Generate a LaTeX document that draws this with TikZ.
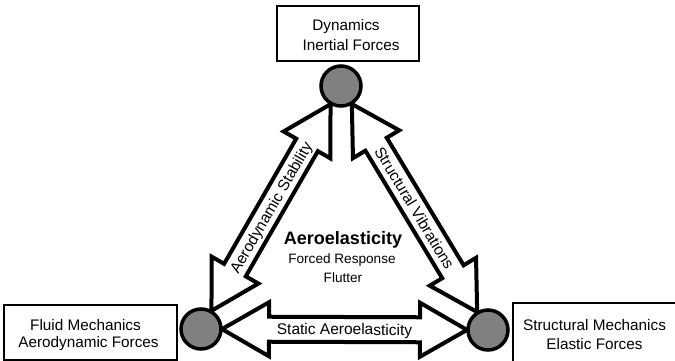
\documentclass[tikz,border=0pt]{standalone}
\usepackage{fontspec}
\setmainfont{Liberation Sans}
\usetikzlibrary{calc}
\pgfdeclarelayer{bg}
\pgfsetlayers{bg,main}
\definecolor{hubgray}{RGB}{128,128,128}
\tikzset{
  hub/.style={circle, draw=black, line width=3.5pt, fill=hubgray, minimum size=40pt, inner sep=0pt},
  topic/.style={draw=black, line width=1.3pt, fill=white},
  arrowbody/.style={draw=black, fill=white, line width=4pt, line join=miter},
  lbl/.style={font=\fontsize{15.3}{18}\selectfont, inner sep=0pt, anchor=base},
  alabel/.style={font=\fontsize{15.5}{18}\selectfont, inner sep=0pt, anchor=base},
  small/.style={font=\fontsize{13.6}{16}\selectfont, inner sep=0pt, anchor=base},
  big/.style={font=\fontsize{18}{21}\selectfont\bfseries, inner sep=0pt, anchor=base},
}
\newcommand\blockarrow[3]{%
  \path let \p1=(#1.center), \p2=(#2.center),
    \n1={atan2(\y2-\y1,\x2-\x1)}, \n2={veclen(\x2-\x1,\y2-\y1)} in
    \pgfextra{\xdef\arrang{\n1}\xdef\arrlen{\n2}};
  \begin{scope}[shift={(#1.center)}, rotate=\arrang]
    \draw[arrowbody] (21,0) -- (68,27) -- (68,12.5) -- ({\arrlen-68},12.5)
      -- ({\arrlen-68},27) -- ({\arrlen-21},0) -- ({\arrlen-68},-27)
      -- ({\arrlen-68},-12.5) -- (68,-12.5) -- (68,-27) -- cycle;
    \node[alabel, transform shape] at ({\arrlen/2},5.4) {#3};
  \end{scope}}
\begin{document}
\begin{tikzpicture}[x=1pt,y=-1pt]
\useasboundingbox (0,0) rectangle (675,361);
\clip (0,0) rectangle (675,361);

% hubs
\node[hub] (dyn) at (341,86) {};
\node[hub] (fl) at (201,329) {};
\node[hub] (st) at (488,330) {};

% arrows
\begin{pgfonlayer}{bg}
\fill[white] (0,0) rectangle (675,361);
\blockarrow{fl}{dyn}{Aerodynamic Stability}
\blockarrow{dyn}{st}{Structural Vibrations}
\blockarrow{fl}{st}{Static Aeroelasticity}
\end{pgfonlayer}

% boxes
\node[topic, minimum width=142pt, minimum height=55pt] (dynbox) at (348,33.5) {};
\node[lbl] (dyn1) at (346,30.7) {Dynamics};
\node[lbl] (dyn2) at (351,50.6) {Inertial Forces};

\node[topic, minimum width=173pt, minimum height=55pt] (flbox) at (90.5,332.5) {};
\node[lbl] (fl1) at (85.5,330.2) {Fluid Mechanics};
\node[lbl] (fl2) at (88.5,347.2) {Aerodynamic Forces};

\node[topic, minimum width=164pt, minimum height=62pt] (stbox) at (595,334) {};
\node[lbl] (st1) at (594.5,330.6) {Structural Mechanics};
\node[lbl] (st2) at (594.5,349) {Elastic Forces};

% centre
\node[big] (ae) at (343,244.3) {Aeroelasticity};
\node[small] (fr) at (342,263.3) {Forced Response};
\node[small] (fu) at (343,282.3) {Flutter};
\end{tikzpicture}
\end{document}
